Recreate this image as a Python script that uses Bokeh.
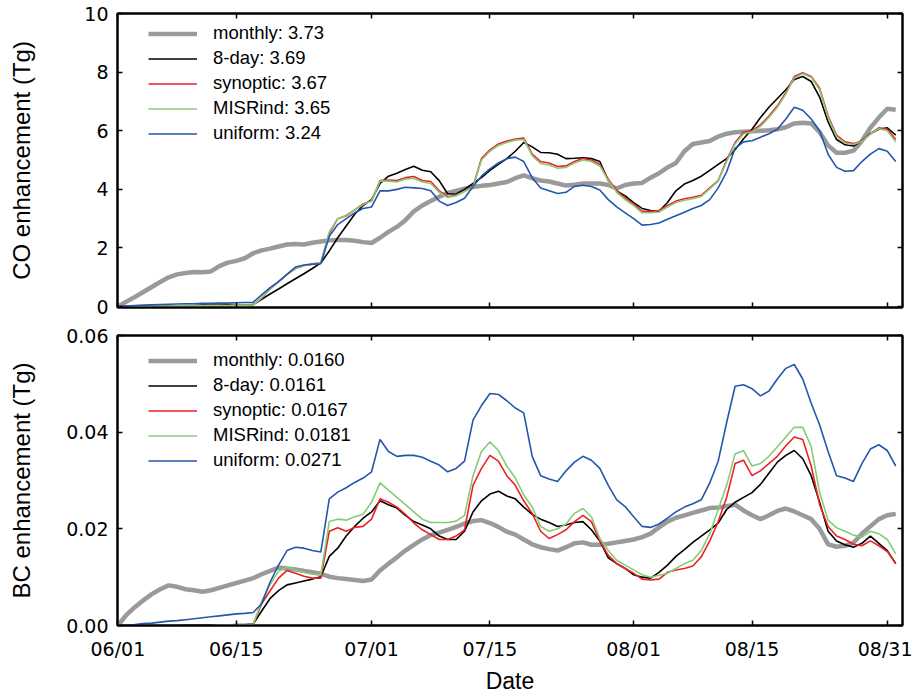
from bokeh.plotting import figure
from bokeh.models import Range1d, LinearAxis, FixedTicker, Legend, LegendItem, PrintfTickFormatter
from bokeh.layouts import column
from bokeh.embed import file_html
from bokeh.resources import INLINE

# ---------------- data ----------------
days = list(range(93))  # days since 06/01
tick_days = [0, 14, 30, 44, 61, 75, 91]
tick_labels = ["06/01", "06/15", "07/01", "07/15", "08/01", "08/15", "08/31"]

series_names = ["monthly", "8-day", "synoptic", "MISRind", "uniform"]
co_totals = ["3.73", "3.69", "3.67", "3.65", "3.24"]
bc_totals = ["0.0160", "0.0161", "0.0167", "0.0181", "0.0271"]

co_monthly = [0.0, 0.17, 0.33, 0.5, 0.67, 0.84, 1.0, 1.1, 1.15, 1.18,
              1.17, 1.2, 1.38, 1.5, 1.56, 1.65, 1.82, 1.92, 1.98, 2.05,
              2.12, 2.14, 2.12, 2.18, 2.22, 2.26, 2.27, 2.27, 2.25, 2.2,
              2.17, 2.35, 2.55, 2.72, 2.95, 3.25, 3.45, 3.6, 3.75, 3.88,
              3.95, 4.02, 4.08, 4.12, 4.15, 4.2, 4.25, 4.38, 4.48, 4.38,
              4.3, 4.27, 4.2, 4.13, 4.16, 4.2, 4.2, 4.2, 4.15, 4.03,
              4.15, 4.2, 4.22, 4.4, 4.55, 4.75, 4.9, 5.3, 5.55, 5.6,
              5.65, 5.8, 5.9, 5.95, 5.97, 5.98, 6.0, 6.02, 6.05, 6.12,
              6.25, 6.27, 6.25, 5.95, 5.5, 5.25, 5.25, 5.32, 5.65, 6.1,
              6.45, 6.75, 6.72]
co_8day = [0.0, 0.01, 0.01, 0.02, 0.02, 0.03, 0.03, 0.03, 0.04, 0.04,
           0.05, 0.05, 0.05, 0.06, 0.06, 0.06, 0.07, 0.25, 0.43, 0.6,
           0.78, 0.95, 1.12, 1.3, 1.49, 1.9, 2.35, 2.75, 3.15, 3.45,
           3.65, 4.2, 4.45, 4.55, 4.68, 4.79, 4.65, 4.6, 4.3, 3.85,
           3.84, 4.0, 4.2, 4.4, 4.65, 4.85, 5.05, 5.3, 5.6, 5.45,
           5.26, 5.25, 5.2, 5.05, 5.06, 5.08, 5.05, 4.95, 4.3, 3.95,
           3.78, 3.55, 3.35, 3.28, 3.25, 3.55, 3.95, 4.18, 4.3, 4.45,
           4.65, 4.85, 5.05, 5.35, 5.73, 6.05, 6.45, 6.8, 7.1, 7.4,
           7.75, 7.85, 7.68, 7.15, 6.3, 5.7, 5.52, 5.48, 5.65, 5.9,
           6.05, 6.1, 5.85]
co_synoptic = [0.0, 0.01, 0.01, 0.01, 0.02, 0.02, 0.02, 0.03, 0.03, 0.03,
               0.03, 0.04, 0.04, 0.04, 0.05, 0.05, 0.06, 0.3, 0.6, 0.85,
               1.1, 1.3, 1.4, 1.45, 1.5, 2.5, 3.0, 3.1, 3.3, 3.5,
               3.6, 4.3, 4.32, 4.3, 4.4, 4.44, 4.3, 4.27, 3.95, 3.75,
               3.8, 3.95, 4.1, 5.05, 5.35, 5.55, 5.65, 5.72, 5.75, 5.2,
               4.95, 4.9, 4.78, 4.8, 4.95, 5.05, 5.0, 4.85, 4.35, 3.95,
               3.7, 3.5, 3.25, 3.25, 3.28, 3.45, 3.6, 3.68, 3.73, 3.8,
               4.05, 4.3, 5.0, 5.6, 5.95, 6.0, 6.2, 6.5, 6.85, 7.3,
               7.85, 7.98, 7.85, 7.45, 6.5, 5.85, 5.62, 5.56, 5.65, 5.9,
               6.1, 6.05, 5.7]
co_misr = [0.0, 0.01, 0.01, 0.01, 0.02, 0.02, 0.02, 0.03, 0.03, 0.03,
           0.03, 0.04, 0.04, 0.04, 0.05, 0.05, 0.06, 0.3, 0.6, 0.85,
           1.1, 1.3, 1.4, 1.45, 1.5, 2.55, 3.0, 3.12, 3.3, 3.48,
           3.6, 4.28, 4.28, 4.25, 4.35, 4.38, 4.25, 4.2, 3.9, 3.72,
           3.78, 3.93, 4.08, 5.0, 5.3, 5.5, 5.6, 5.68, 5.7, 5.15,
           4.88, 4.83, 4.72, 4.75, 4.9, 5.0, 4.95, 4.8, 4.3, 3.9,
           3.65, 3.45, 3.2, 3.2, 3.23, 3.4, 3.55, 3.63, 3.68, 3.76,
           4.02, 4.28, 4.95, 5.55, 5.9, 5.96, 6.15, 6.45, 6.8, 7.25,
           7.8, 7.95, 7.82, 7.4, 6.45, 5.8, 5.58, 5.53, 5.63, 5.88,
           6.07, 6.0, 5.62]
co_uniform = [0.0, 0.02, 0.04, 0.05, 0.06, 0.07, 0.08, 0.09, 0.1, 0.1,
              0.11, 0.11, 0.12, 0.12, 0.13, 0.14, 0.15, 0.4, 0.65, 0.85,
              1.1, 1.35, 1.42, 1.45, 1.46, 2.4, 2.8, 3.0, 3.2, 3.35,
              3.4, 3.95, 3.95, 4.0, 4.07, 4.05, 4.03, 3.95, 3.6, 3.45,
              3.55, 3.7, 4.1, 4.45, 4.7, 4.9, 5.05, 5.1, 4.95, 4.4,
              4.05, 3.95, 3.86, 3.9, 4.1, 4.14, 4.1, 3.98, 3.65, 3.4,
              3.2, 3.0, 2.78, 2.8, 2.85, 2.98, 3.1, 3.22, 3.35, 3.45,
              3.65, 4.05, 4.6, 5.4, 5.62, 5.66, 5.78, 5.9, 6.05, 6.4,
              6.8, 6.7, 6.4, 6.0, 5.2, 4.75, 4.62, 4.64, 4.95, 5.2,
              5.39, 5.3, 4.95]

bc_monthly = [0.0, 0.0022, 0.0038, 0.0052, 0.0065, 0.0075, 0.0083, 0.008, 0.0075, 0.0073,
              0.007, 0.0073, 0.0078, 0.0083, 0.0088, 0.0093, 0.0098, 0.0106, 0.0113, 0.012,
              0.0118, 0.0116, 0.0113, 0.011, 0.0107, 0.0101, 0.0098, 0.0096, 0.0094, 0.0092,
              0.0095, 0.0114, 0.0128, 0.0141, 0.0155, 0.0167, 0.0178, 0.0187, 0.0192, 0.0198,
              0.0204, 0.0211, 0.0216, 0.0218, 0.0212, 0.0204, 0.0194, 0.0188, 0.0178, 0.0168,
              0.0162, 0.0158, 0.0155, 0.0162, 0.017, 0.0172, 0.0167, 0.0167, 0.0169, 0.0172,
              0.0175, 0.0178, 0.0183, 0.019, 0.0203, 0.0215, 0.0223, 0.0228, 0.0233, 0.0238,
              0.0243, 0.0244, 0.0247, 0.025, 0.0238, 0.0228, 0.022, 0.0228, 0.0237, 0.0242,
              0.0236, 0.0228, 0.022, 0.02, 0.0168, 0.0163, 0.0165, 0.0171, 0.019, 0.0205,
              0.022, 0.0228, 0.0231]
bc_8day = [0.0, 0.0, 0.0, 0.0, 0.0, 0.0, 0.0, 0.0, 0.0001, 0.0001,
           0.0001, 0.0001, 0.0001, 0.0001, 0.0002, 0.0002, 0.0003, 0.003, 0.0056, 0.0072,
           0.0084, 0.0088, 0.0092, 0.0096, 0.0101, 0.0143, 0.016, 0.0185, 0.0205, 0.0222,
           0.0235, 0.0258, 0.025, 0.0243, 0.0228, 0.0215, 0.0208, 0.02, 0.0185, 0.0178,
           0.0178, 0.0195, 0.0235, 0.0258, 0.0272, 0.0278, 0.0268, 0.0262, 0.0245, 0.023,
           0.022, 0.0213, 0.0205, 0.0208, 0.0213, 0.0215, 0.0198, 0.0175, 0.014, 0.0128,
           0.0118, 0.0105, 0.01, 0.0098, 0.011, 0.0125, 0.0143, 0.0157, 0.0172, 0.0185,
           0.0198, 0.0212, 0.024, 0.0255, 0.0265, 0.0275, 0.0292, 0.0315, 0.0338, 0.0352,
           0.0362, 0.0345, 0.031, 0.0255, 0.0195, 0.0175, 0.0167, 0.0162, 0.017, 0.0185,
           0.017, 0.0155, 0.0128]
bc_synoptic = [0.0, 0.0, 0.0, 0.0, 0.0, 0.0, 0.0, 0.0, 0.0, 0.0,
               0.0, 0.0, 0.0001, 0.0001, 0.0001, 0.0001, 0.0002, 0.0045, 0.0072, 0.0098,
               0.0114, 0.0108, 0.0102, 0.0098, 0.0098, 0.0195, 0.0202, 0.0195, 0.0203, 0.0205,
               0.022, 0.0262, 0.0255, 0.0245, 0.023, 0.0212, 0.0198, 0.0188, 0.0178, 0.0178,
               0.0185, 0.0198, 0.029, 0.0325, 0.0352, 0.034, 0.031, 0.029, 0.0258, 0.0232,
               0.0195, 0.018, 0.0188, 0.0198, 0.0215, 0.0228, 0.0215, 0.0175, 0.0145, 0.0128,
               0.0118, 0.0108, 0.0096, 0.0094, 0.0096, 0.011, 0.0115, 0.0118, 0.0123, 0.0142,
               0.0175, 0.0215, 0.0265, 0.0335, 0.0342, 0.031, 0.032, 0.0335, 0.035, 0.0372,
               0.039, 0.0385, 0.033, 0.025, 0.0205, 0.0185, 0.0178, 0.0168, 0.0165, 0.0175,
               0.0165, 0.0153, 0.0128]
bc_misr = [0.0, 0.0, 0.0, 0.0, 0.0, 0.0, 0.0, 0.0, 0.0, 0.0,
           0.0, 0.0, 0.0001, 0.0001, 0.0001, 0.0001, 0.0002, 0.005, 0.0085, 0.0112,
           0.0121, 0.0115, 0.011, 0.0106, 0.0105, 0.0215, 0.022, 0.0218, 0.0225, 0.023,
           0.0255, 0.0295, 0.028, 0.0265, 0.025, 0.0235, 0.022, 0.0213, 0.0213, 0.0213,
           0.0216, 0.0228, 0.031, 0.036, 0.038, 0.0362, 0.033, 0.0305, 0.027, 0.0245,
           0.0205, 0.0195, 0.02, 0.021, 0.0232, 0.0242, 0.0225, 0.018, 0.0155, 0.0135,
           0.0125, 0.0115, 0.0105, 0.01, 0.0104, 0.0108, 0.0118, 0.0128, 0.0135, 0.0155,
           0.019, 0.024, 0.029, 0.0355, 0.0362, 0.033, 0.0335, 0.035, 0.037, 0.039,
           0.041, 0.041, 0.037, 0.0275, 0.0218, 0.0202, 0.0195, 0.0187, 0.0183, 0.0195,
           0.019, 0.0178, 0.0148]
bc_uniform = [0.0, 0.0001, 0.0002, 0.0004, 0.0005, 0.0007, 0.0009, 0.001, 0.0012, 0.0014,
              0.0016, 0.0018, 0.002, 0.0022, 0.0024, 0.0025, 0.0027, 0.0045, 0.009, 0.0125,
              0.0155, 0.0162, 0.016, 0.0155, 0.0152, 0.0262, 0.0276, 0.0285, 0.0296, 0.0305,
              0.0318, 0.0385, 0.036, 0.035, 0.0352, 0.0352, 0.0348, 0.034, 0.0332, 0.0318,
              0.0325, 0.034, 0.0425, 0.0455, 0.048, 0.0478, 0.0465, 0.045, 0.044, 0.035,
              0.031, 0.0303, 0.0298, 0.032, 0.0338, 0.035, 0.0342, 0.0325, 0.029, 0.026,
              0.0246, 0.0225, 0.0205, 0.0203, 0.021, 0.0222, 0.0235, 0.0245, 0.0252, 0.026,
              0.0295, 0.034, 0.042, 0.0495, 0.0498, 0.049, 0.0475, 0.0485, 0.051, 0.0532,
              0.054, 0.051, 0.046, 0.0415, 0.036, 0.031, 0.0305, 0.0298, 0.0335, 0.0365,
              0.0374, 0.0362, 0.033]

co_yticks = [0, 2, 4, 6, 8, 10]
bc_yticks = [0.0, 0.02, 0.04, 0.06]

# ---------------- style ----------------
colors = ["#9a9a9a", "#000000", "#ee2024", "#86cc78", "#2456ab"]
widths = [4.5, 1.6, 1.6, 1.6, 1.6]
TICK_FONT = "DejaVu Sans"
TEXT_FONT = "Liberation Sans"
X_RANGE = (-0.05, 92.8)


def style_axis(ax, ticks, show_labels, standoff=9):
    ax.ticker = FixedTicker(ticks=ticks)
    ax.axis_line_width = 2
    ax.axis_line_color = "black"
    ax.major_tick_in = 5
    ax.major_tick_out = 0
    ax.major_tick_line_width = 1.5
    ax.minor_tick_line_color = None
    ax.major_label_text_font = TICK_FONT
    if show_labels:
        ax.major_label_text_color = "black"
        ax.major_label_text_font_size = "19px"
        ax.major_label_standoff = standoff
    else:
        ax.major_label_text_color = None
        ax.major_label_text_font_size = "1px"
        ax.major_label_standoff = 0
    ax.axis_label_text_font = TEXT_FONT
    ax.axis_label_text_font_size = "24px"
    ax.axis_label_text_font_style = "normal"
    ax.axis_label_text_color = "black"


def make_panel(ys, totals, y_range, yticks, yfmt, ylabel, height, border_top,
               border_bottom, show_x, ylabel_standoff, legend_y):
    p = figure(width=912, height=height, output_backend="svg", toolbar_location=None,
               x_range=Range1d(*X_RANGE), y_range=Range1d(*y_range),
               min_border_left=117, min_border_right=10,
               min_border_top=border_top, min_border_bottom=border_bottom)
    p.grid.visible = False
    p.outline_line_color = "black"
    p.outline_line_width = 2
    p.background_fill_color = "white"
    p.border_fill_color = "white"

    xa = p.xaxis[0]
    style_axis(xa, tick_days, show_x, standoff=12)
    xa.major_label_overrides = {d: l for d, l in zip(tick_days, tick_labels)}
    if show_x:
        xa.axis_label = "Date"
        xa.axis_label_text_font_size = "23px"
        xa.axis_label_standoff = 5

    ya = p.yaxis[0]
    style_axis(ya, yticks, True, standoff=9)
    ya.formatter = PrintfTickFormatter(format=yfmt)
    ya.axis_label = ylabel
    ya.axis_label_standoff = ylabel_standoff

    ra = LinearAxis()
    style_axis(ra, yticks, False)
    p.add_layout(ra, "right")
    ta = LinearAxis()
    style_axis(ta, tick_days, False)
    p.add_layout(ta, "above")

    items = []
    for name, tot, y, c, w in zip(series_names, totals, ys, colors, widths):
        r = p.line(days, y, line_color=c, line_width=w)
        items.append(LegendItem(label=f"{name}: {tot}", renderers=[r]))

    leg = Legend(items=items, location=(31, legend_y))
    leg.padding = 0
    leg.margin = 0
    leg.spacing = 3
    leg.glyph_width = 49
    leg.glyph_height = 21
    leg.label_height = 21
    leg.label_standoff = 16
    leg.border_line_color = None
    leg.background_fill_alpha = 0
    leg.label_text_font = TEXT_FONT
    leg.label_text_font_size = "18.5px"
    leg.label_text_color = "black"
    p.add_layout(leg, "center")
    return p


p1 = make_panel([co_monthly, co_8day, co_synoptic, co_misr, co_uniform], co_totals,
                (-0.03, 10.0), co_yticks, "%d", "CO enhancement (Tg)",
                height=321, border_top=13, border_bottom=14, show_x=False,
                ylabel_standoff=46, legend_y=163)
p2 = make_panel([bc_monthly, bc_8day, bc_synoptic, bc_misr, bc_uniform], bc_totals,
                (0.0, 0.06), bc_yticks, "%.2f", "BC enhancement (Tg)",
                height=375, border_top=14, border_bottom=66, show_x=True,
                ylabel_standoff=28, legend_y=154)

layout = column(p1, p2, spacing=0)
open("out.html", "w").write(file_html(layout, INLINE))
